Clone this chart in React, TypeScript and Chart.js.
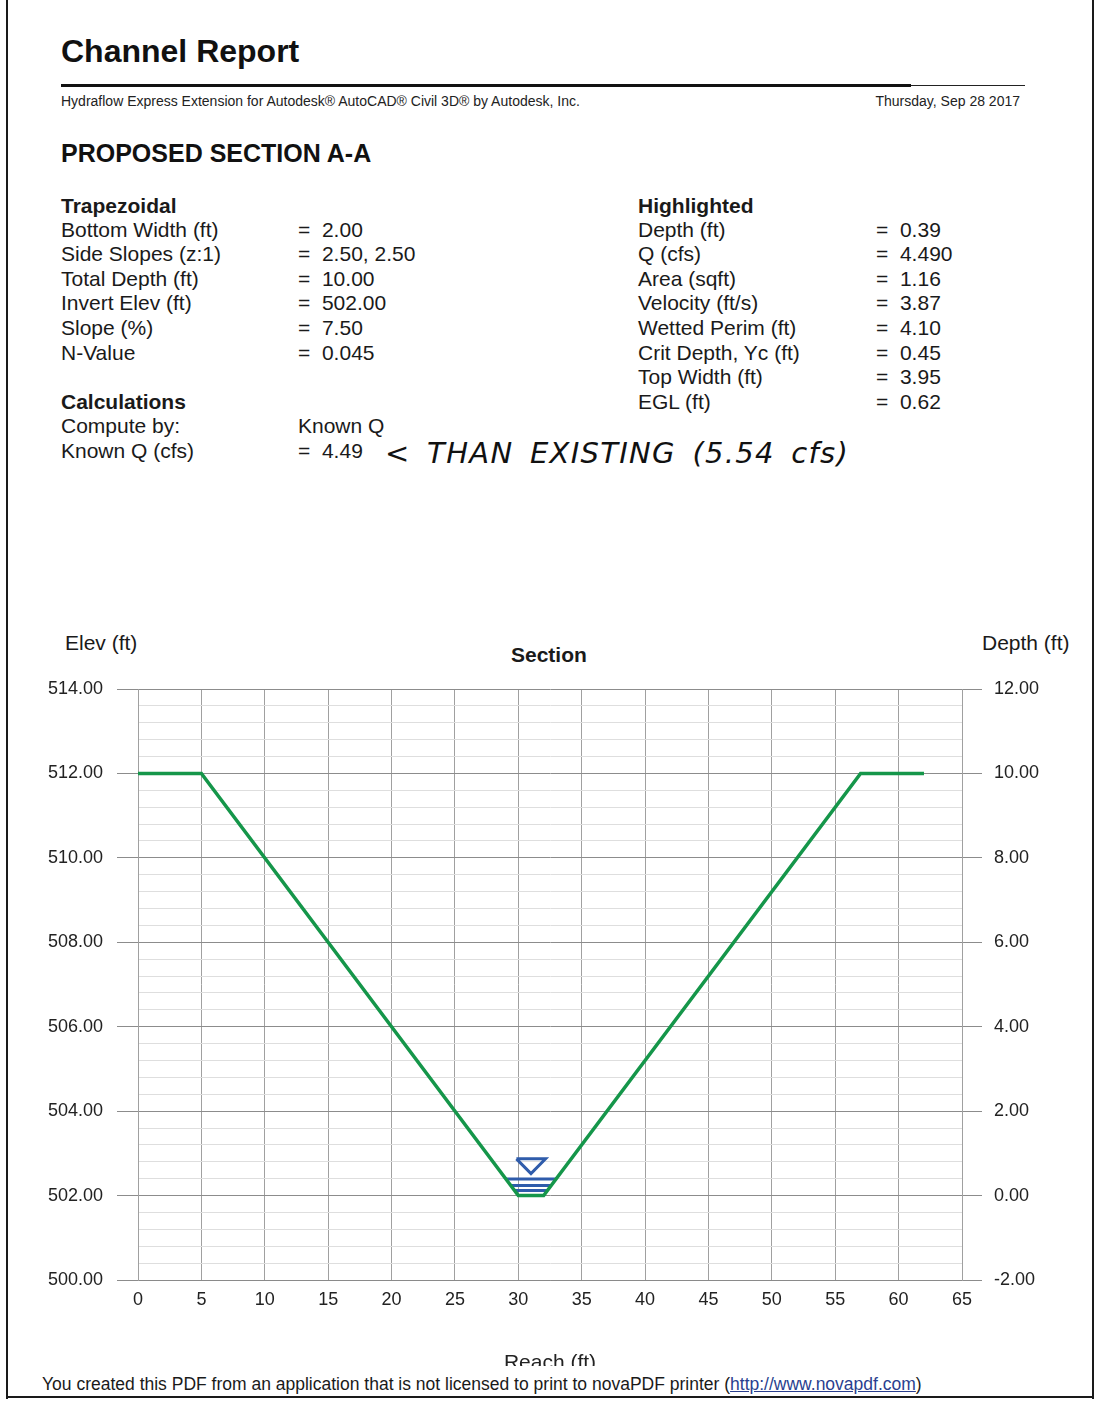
import React, { useEffect, useRef } from "react";
import { Chart, registerables } from "chart.js";

Chart.register(...registerables);

// ---- data ----
const groundStation = [0, 5, 30, 32, 57, 62];
const groundElev = [512, 512, 502, 502, 512, 512];

const triangleStation = [29.85, 32.15, 31, 29.85];
const triangleElev = [502.87, 502.87, 502.52, 502.87];

const waterLine1Station = [29.03, 32.97];
const waterLine1Elev = [502.39, 502.39];
const waterLine2Station = [29.4, 32.6];
const waterLine2Elev = [502.24, 502.24];
const waterLine3Station = [29.7, 32.3];
const waterLine3Elev = [502.12, 502.12];

const elevMin = 500;
const elevMax = 514;
const depthMin = -2;
const depthMax = 12;
const reachMin = 0;
const reachMax = 65;

const leftParams = [
  ["Bottom Width (ft)", "=  2.00"],
  ["Side Slopes (z:1)", "=  2.50, 2.50"],
  ["Total Depth (ft)", "=  10.00"],
  ["Invert Elev (ft)", "=  502.00"],
  ["Slope (%)", "=  7.50"],
  ["N-Value", "=  0.045"],
];
const calcParams = [
  ["Compute by:", "Known Q"],
  ["Known Q (cfs)", "=  4.49"],
];
const highlighted = [
  ["Depth (ft)", "=  0.39"],
  ["Q (cfs)", "=  4.490"],
  ["Area (sqft)", "=  1.16"],
  ["Velocity (ft/s)", "=  3.87"],
  ["Wetted Perim (ft)", "=  4.10"],
  ["Crit Depth, Yc (ft)", "=  0.45"],
  ["Top Width (ft)", "=  3.95"],
  ["EGL (ft)", "=  0.62"],
];

const FONT = "'Liberation Sans', Arial, sans-serif";

const zip = (xs: number[], ys: number[]) => xs.map((x, i) => ({ x, y: ys[i] }));

const isMajor = (v: number) => Math.abs(v / 2 - Math.round(v / 2)) < 1e-6;

function SectionChart() {
  const ref = useRef<HTMLCanvasElement | null>(null);
  useEffect(() => {
    if (!ref.current) return;
    const blue = "#2f5cab";
    const waterDs = (xs: number[], ys: number[]) => ({
      data: zip(xs, ys),
      borderColor: blue,
      borderWidth: 3,
      pointRadius: 0,
      fill: false,
      tension: 0,
    });
    const chart = new Chart(ref.current, {
      type: "line",
      data: {
        datasets: [
          {
            data: zip(groundStation, groundElev),
            borderColor: "#15964a",
            borderWidth: 3.5,
            pointRadius: 0,
            fill: false,
            tension: 0,
          },
          waterDs(waterLine1Station, waterLine1Elev),
          waterDs(waterLine2Station, waterLine2Elev),
          waterDs(waterLine3Station, waterLine3Elev),
          { ...waterDs(triangleStation, triangleElev), borderJoinStyle: "miter" },
        ] as any,
      },
      options: {
        animation: false,
        responsive: false,
        maintainAspectRatio: false,
        layout: { padding: { top: 69, left: 0, right: 0, bottom: 0 } },
        plugins: {
          legend: { display: false },
          tooltip: { enabled: false },
          title: { display: false },
        },
        scales: {
          x: {
            type: "linear",
            min: reachMin,
            max: reachMax,
            ticks: {
              stepSize: 5,
              color: "#222",
              padding: 9,
              font: { family: FONT, size: 18 },
              maxRotation: 0,
            },
            grid: { color: "#a0a0a0", lineWidth: 1, drawTicks: false },
            border: { color: "#8a8a8a", width: 1 },
            title: {
              display: true,
              text: "Reach (ft)",
              color: "#222",
              font: { family: FONT, size: 21 },
              padding: { top: 0, bottom: 4 },
            },
            afterFit: (s: any) => {
              s.height = 100;
            },
          },
          y: {
            type: "linear",
            position: "left",
            min: elevMin,
            max: elevMax,
            ticks: {
              stepSize: 0.4,
              autoSkip: false,
              color: "#222",
              padding: 14,
              font: { family: FONT, size: 18 },
              callback: (v: any) => (isMajor(Number(v)) ? Number(v).toFixed(2) : ""),
            },
            grid: {
              color: (c: any) => (isMajor(c.tick.value) ? "#8c8c8c" : "#dedede"),
              tickColor: (c: any) => (isMajor(c.tick.value) ? "#8c8c8c" : "rgba(0,0,0,0)"),
              tickLength: 21,
              lineWidth: 1,
            },
            border: { color: "#a0a0a0", width: 1 },
            afterFit: (s: any) => {
              s.width = 138;
            },
          },
          y2: {
            type: "linear",
            position: "right",
            min: depthMin,
            max: depthMax,
            ticks: {
              stepSize: 2,
              color: "#222",
              padding: 12,
              font: { family: FONT, size: 18 },
              callback: (v: any) => Number(v).toFixed(2),
            },
            grid: {
              drawOnChartArea: false,
              tickColor: "#8c8c8c",
              tickLength: 20,
            },
            border: { color: "#a0a0a0", width: 1 },
            afterFit: (s: any) => {
              s.width = 1106 - 962;
            },
          },
        },
      } as any,
    });
    return () => chart.destroy();
  }, []);
  return (
    <div style={{ position: "absolute", left: 0, top: 620, width: 1106, height: 746, overflow: "hidden" }}>
      <canvas ref={ref} width={1106} height={760} style={{ width: 1106, height: 760, display: "block" }} />
    </div>
  );
}

const abs = (left: number, top: number, extra: React.CSSProperties = {}): React.CSSProperties => ({
  position: "absolute",
  left,
  top,
  whiteSpace: "pre",
  lineHeight: 1,
  ...extra,
});

export default function App() {
  const rowH = 24.6;
  const textStyle = { fontFamily: FONT, fontSize: 21, color: "#1a1a1a" };
  const rows = (items: string[][], x1: number, x2: number, y0: number) =>
    items.map((r, i) => (
      <React.Fragment key={r[0]}>
        <div style={abs(x1, y0 + i * rowH, textStyle)}>{r[0]}</div>
        <div style={abs(x2, y0 + i * rowH, textStyle)}>{r[1]}</div>
      </React.Fragment>
    ));
  return (
    <div style={{ position: "absolute", left: 0, top: 0, width: 1106, height: 1408, background: "#fff", overflow: "hidden", fontFamily: FONT }}>
      {/* page frame */}
      <div style={{ position: "absolute", left: 6, top: 0, width: 2, height: 1399, background: "#1a1a1a" }} />
      <div style={{ position: "absolute", left: 1092, top: 0, width: 2, height: 1399, background: "#1a1a1a" }} />
      <div style={{ position: "absolute", left: 6, top: 1396, width: 1088, height: 2, background: "#1a1a1a" }} />

      {/* header */}
      <div style={abs(61, 35, { fontSize: 32, fontWeight: "bold", color: "#111" })}>Channel Report</div>
      <div style={{ position: "absolute", left: 61, top: 84, width: 850, height: 3, background: "#111" }} />
      <div style={{ position: "absolute", left: 911, top: 85, width: 114, height: 1, background: "#222" }} />
      <div style={abs(61, 93.5, { fontSize: 14, color: "#222" })}>
        Hydraflow Express Extension for Autodesk® AutoCAD® Civil 3D® by Autodesk, Inc.
      </div>
      <div style={{ ...abs(0, 93.5, { fontSize: 14, color: "#222" }), left: "auto", right: 1106 - 1020 }}>
        Thursday, Sep 28 2017
      </div>

      <div style={abs(61, 141, { fontSize: 25, fontWeight: "bold", color: "#111" })}>PROPOSED SECTION A-A</div>

      {/* left block */}
      <div style={abs(61, 195, { ...textStyle, fontWeight: "bold" })}>Trapezoidal</div>
      {rows(leftParams, 61, 298, 218.5)}
      <div style={abs(61, 391, { ...textStyle, fontWeight: "bold" })}>Calculations</div>
      {rows(calcParams, 61, 298, 415)}

      {/* right block */}
      <div style={abs(638, 195, { ...textStyle, fontWeight: "bold" })}>Highlighted</div>
      {rows(highlighted, 638, 876, 218.5)}

      {/* handwritten note */}
      <div
        style={abs(385, 439, {
          fontFamily: "'DejaVu Sans', sans-serif",
          fontStyle: "italic",
          fontSize: 29,
          letterSpacing: 1.3,
          wordSpacing: 6,
          color: "#111",
          whiteSpace: "nowrap",
        })}
      >
        {"< THAN EXISTING (5.54 cfs)"}
      </div>

      {/* chart titles */}
      <div style={abs(65, 632, { fontSize: 21, color: "#1a1a1a" })}>Elev (ft)</div>
      <div style={abs(511, 644, { fontSize: 21, fontWeight: "bold", color: "#1a1a1a" })}>Section</div>
      <div style={abs(982, 632, { fontSize: 21, color: "#1a1a1a" })}>Depth (ft)</div>

      <SectionChart />

      {/* footer */}
      <div style={abs(42, 1375.5, { fontSize: 17.5, color: "#1a1a1a", whiteSpace: "nowrap" })}>
        You created this PDF from an application that is not licensed to print to novaPDF printer (
        <span style={{ color: "#2a3f8f", textDecoration: "underline" }}>http://www.novapdf.com</span>)
      </div>
    </div>
  );
}
